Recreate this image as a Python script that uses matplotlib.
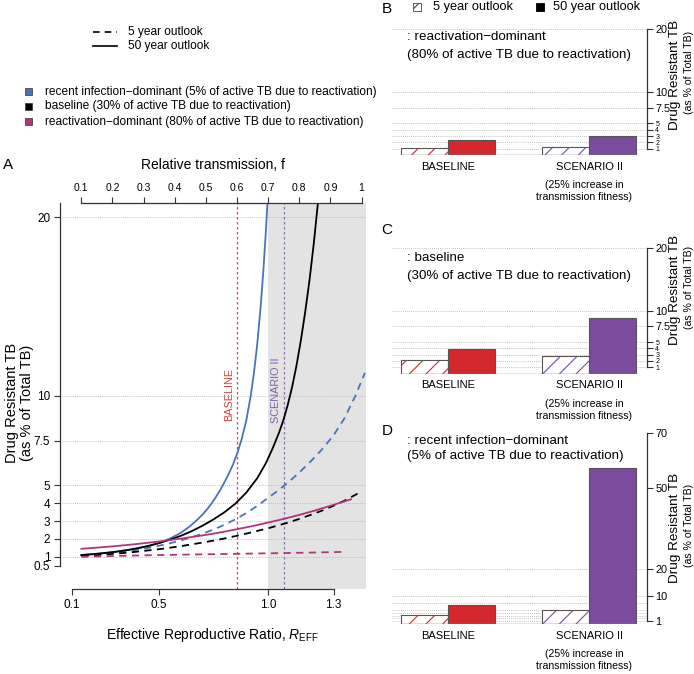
import matplotlib
matplotlib.use("Agg")
import matplotlib.pyplot as plt
from matplotlib.patches import Rectangle
from matplotlib.lines import Line2D

plt.rcParams['font.family'] = ['Liberation Sans', 'DejaVu Sans']
plt.rcParams['mathtext.fontset'] = 'custom'
plt.rcParams['mathtext.rm'] = 'Liberation Sans'
plt.rcParams['mathtext.it'] = 'Liberation Sans:italic'
plt.rcParams['hatch.linewidth'] = 0.8

# ---- panel A data (R_EFF, % drug resistant TB) ----
r_recent_50 = [0.143, 0.2, 0.25, 0.3, 0.35, 0.4, 0.45, 0.5, 0.55, 0.6, 0.64, 0.67, 0.7, 0.72, 0.74, 0.76,
               0.78, 0.8, 0.82, 0.84, 0.86, 0.88, 0.9, 0.92, 0.935, 0.95, 0.965, 0.978, 0.99, 1.0]
v_recent_50 = [1.1, 1.16, 1.22, 1.29, 1.37, 1.47, 1.6, 1.78, 2.02, 2.35, 2.7, 3.02, 3.38, 3.66, 3.98, 4.34,
               4.74, 5.18, 5.66, 6.2, 6.85, 7.65, 8.65, 10.0, 11.3, 12.9, 14.9, 17.0, 19.3, 21.5]
r_recent_5 = [0.143, 0.2, 0.25, 0.3, 0.35, 0.4, 0.45, 0.5, 0.55, 0.6, 0.65, 0.7, 0.75, 0.8, 0.85, 0.9,
              0.95, 1.0, 1.05, 1.1, 1.15, 1.2, 1.25, 1.3, 1.35, 1.4, 1.444]
v_recent_5 = [1.08, 1.13, 1.18, 1.24, 1.31, 1.4, 1.5, 1.62, 1.76, 1.92, 2.1, 2.3, 2.53, 2.8, 3.1, 3.45,
              3.85, 4.3, 4.75, 5.25, 5.8, 6.4, 7.05, 7.8, 8.75, 10.0, 11.3]

r_base_50 = [0.143, 0.2, 0.25, 0.3, 0.35, 0.4, 0.45, 0.5, 0.55, 0.6, 0.65, 0.7, 0.75, 0.8, 0.85, 0.9,
             0.95, 0.99, 1.02, 1.05, 1.07, 1.09, 1.11, 1.13, 1.15, 1.17, 1.19, 1.21, 1.23]
v_base_50 = [1.1, 1.15, 1.21, 1.28, 1.37, 1.48, 1.61, 1.77, 1.96, 2.18, 2.44, 2.75, 3.1, 3.5, 3.98, 4.6,
             5.4, 6.25, 7.05, 7.95, 8.65, 9.5, 10.5, 11.7, 13.1, 14.7, 16.5, 18.6, 21.0]
r_base_5 = [0.143, 0.2, 0.25, 0.3, 0.35, 0.4, 0.45, 0.5, 0.55, 0.6, 0.65, 0.7, 0.75, 0.8, 0.85, 0.9,
            0.95, 1.0, 1.05, 1.1, 1.15, 1.2, 1.25, 1.3, 1.35, 1.42]
v_base_5 = [1.05, 1.09, 1.13, 1.18, 1.23, 1.29, 1.36, 1.43, 1.51, 1.6, 1.7, 1.8, 1.91, 2.03, 2.16, 2.3,
            2.45, 2.6, 2.77, 2.95, 3.15, 3.37, 3.6, 3.86, 4.14, 4.6]

r_react_50 = [0.143, 0.2, 0.25, 0.3, 0.35, 0.4, 0.45, 0.5, 0.55, 0.6, 0.65, 0.7, 0.75, 0.8, 0.85, 0.9,
              0.95, 1.0, 1.05, 1.1, 1.15, 1.2, 1.25, 1.3, 1.38]
v_react_50 = [1.45, 1.5, 1.55, 1.6, 1.66, 1.72, 1.79, 1.86, 1.94, 2.02, 2.11, 2.2, 2.3, 2.41, 2.53, 2.65,
              2.78, 2.92, 3.06, 3.21, 3.37, 3.54, 3.72, 3.91, 4.22]
r_react_5 = [0.143, 0.3, 0.5, 0.7, 0.857, 1.07, 1.2, 1.36]
v_react_5 = [1.0, 1.05, 1.1, 1.14, 1.17, 1.21, 1.24, 1.28]

f_per_R = 0.7          # relative transmission f = 0.7 * R_EFF
f_baseline = 0.6
f_scenario = 0.75

a_yticks = [0.5, 1, 2, 3, 4, 5, 7.5, 10, 20]
a_yticklabels = ['0.5', '1', '2', '3', '4', '5', '7.5', '10', '20']
a_grid = [1, 2, 3, 4, 5, 7.5, 10, 20]
a_xticks = [0.1, 0.5, 1.0, 1.3]
a_xticklabels = ['0.1', '0.5', '1.0', '1.3']
f_ticks = [0.1, 0.2, 0.3, 0.4, 0.5, 0.6, 0.7, 0.8, 0.9, 1.0]
f_ticklabels = ['0.1', '0.2', '0.3', '0.4', '0.5', '0.6', '0.7', '0.8', '0.9', '1']

# ---- panels B-D data (baseline, scenario II) ----
groups = ['BASELINE', 'SCENARIO II']
b_5yr = [1.16, 1.27]
b_50yr = [2.4, 2.97]
c_5yr = [2.1, 2.8]
c_50yr = [3.95, 8.9]
d_5yr = [3.2, 5.0]
d_50yr = [6.8, 57.1]

bc_ticks = [1, 2, 3, 4, 5, 7.5, 10, 20]
bc_ticklabels = ['1', '2', '3', '4', '5', '7.5', '10', '20']
d_ticks = [1, 10, 20, 50, 70]
d_ticklabels = ['1', '10', '20', '50', '70']
bar_grid = [1, 2, 3, 4, 5, 7.5, 10, 20]

BLUE = '#4b73b6'
MAGENTA = '#b2357a'
RED = '#d3282d'
PURPLE = '#7b4c9e'
DASH = (0, (4, 3))

W, H = 694, 674


def fx(x):
    return x / W


def fy(y):
    return 1 - y / H


fig = plt.figure(figsize=(6.94, 6.74), dpi=100)

# ================= panel A =================
axA = fig.add_axes([fx(60), fy(589), 306 / W, 386 / H])
axA.set_xlim(0.045, 1.449)
axA.set_ylim(-0.8, 20.8)
axA.axvspan(1.0, 1.449, color='#e3e3e3', lw=0, zorder=0)
for g in a_grid:
    axA.axhline(g, color='#b0b0b0', lw=0.6, ls=(0, (1, 1.5)), zorder=1)

axA.axvline(f_baseline / f_per_R, color='#e0453a', lw=0.9, ls=(0, (2, 2)), zorder=2)
axA.axvline(f_scenario / f_per_R, color='#8a6bb0', lw=0.9, ls=(0, (2, 2)), zorder=2)
axA.annotate('BASELINE', xy=(f_baseline / f_per_R, 10.1), xytext=(-2, 0), textcoords='offset points',
             rotation=90, ha='right', va='center', color='#d9403a', fontsize=7.8)
axA.annotate('SCENARIO II', xy=(f_scenario / f_per_R, 10.3), xytext=(-2, 0), textcoords='offset points',
             rotation=90, ha='right', va='center', color='#7e5fae', fontsize=7.8)

axA.plot(r_recent_5, v_recent_5, color=BLUE, lw=1.3, ls=DASH, zorder=3)
axA.plot(r_base_5, v_base_5, color='black', lw=1.3, ls=DASH, zorder=3)
axA.plot(r_react_5, v_react_5, color=MAGENTA, lw=1.3, ls=DASH, zorder=3)
axA.plot(r_recent_50, v_recent_50, color=BLUE, lw=1.3, zorder=3)
axA.plot(r_base_50, v_base_50, color='black', lw=1.3, zorder=3)
axA.plot(r_react_50, v_react_50, color=MAGENTA, lw=1.3, zorder=3)

axA.spines['right'].set_visible(False)
axA.spines['top'].set_visible(False)
axA.spines['left'].set_bounds(0.5, 20.8)
axA.spines['bottom'].set_bounds(0.1, 1.3)
for s in ('left', 'bottom'):
    axA.spines[s].set_color('#333333')
    axA.spines[s].set_linewidth(0.9)
axA.set_xticks(a_xticks)
axA.set_xticklabels(a_xticklabels)
axA.set_yticks(a_yticks)
axA.set_yticklabels(a_yticklabels)
axA.tick_params(labelsize=8.5, length=4, width=0.8, color='#333333', pad=3)

axT = axA.twiny()
axT.set_xlim(0.045 * f_per_R, 1.449 * f_per_R)
for s in ('left', 'bottom', 'right'):
    axT.spines[s].set_visible(False)
axT.spines['top'].set_bounds(0.1, 1.0)
axT.spines['top'].set_color('#333333')
axT.spines['top'].set_linewidth(0.9)
axT.set_xticks(f_ticks)
axT.set_xticklabels(f_ticklabels)
axT.tick_params(labelsize=7.5, length=4, width=0.8, color='#333333', pad=3)

fig.text(fx(213), fy(165), 'Relative transmission, f', ha='center', va='center', fontsize=10)
fig.text(fx(212), fy(635), 'Effective Reproductive Ratio, $\\it{R}_{\\rm{EFF}}$',
         ha='center', va='center', fontsize=10)
fig.text(fx(12), fy(403), 'Drug Resistant TB', rotation=90, ha='center', va='center', fontsize=10.5)
fig.text(fx(27), fy(403), '(as % of Total TB)', rotation=90, ha='center', va='center', fontsize=10.5)
fig.text(fx(8), fy(165), 'A', ha='center', va='center', fontsize=11)

# legends top-left
fig.add_artist(Line2D([fx(93), fx(117)], [fy(31.7), fy(31.7)], transform=fig.transFigure,
                      color='black', lw=1.2, ls=DASH))
fig.add_artist(Line2D([fx(93), fx(117)], [fy(45.7), fy(45.7)], transform=fig.transFigure,
                      color='black', lw=1.2))
fig.text(fx(128), fy(31.7), '5 year outlook', va='center', fontsize=8.6)
fig.text(fx(128), fy(45.7), '50 year outlook', va='center', fontsize=8.6)

legend_items = [(BLUE, 'recent infection\u2212dominant (5% of active TB due to reactivation)'),
                ('black', 'baseline (30% of active TB due to reactivation)'),
                (MAGENTA, 'reactivation\u2212dominant (80% of active TB due to reactivation)')]
for i, (c, lab) in enumerate(legend_items):
    yc = 91.5 + 15 * i
    fig.add_artist(Rectangle((fx(25), fy(yc + 3.5)), 7 / W, 7 / H, transform=fig.transFigure,
                             facecolor=c, edgecolor='#333333', lw=0.5))
    fig.text(fx(45), fy(yc), lab, va='center', fontsize=8.6)


# ================= panels B-D =================
def bar_panel(rect, five, fifty, ymax, ticks, ticklabels, title1, title2, title_y, letter, letter_y, ylab_y):
    ax = fig.add_axes(rect)
    ax.set_xlim(-0.19, 5.23)
    ax.set_ylim(0, ymax)
    for g in bar_grid:
        ax.axhline(g, color='#b0b0b0', lw=0.6, ls=(0, (1, 1.5)), zorder=0)
    cols = [RED, PURPLE]
    x5 = [0.5, 3.5]
    x50 = [1.5, 4.5]
    ax.bar(x5, five, width=1, facecolor='white', edgecolor=cols, hatch='//', lw=0, zorder=2)
    ax.bar(x5, five, width=1, fill=False, edgecolor='#555555', lw=0.8, zorder=3)
    ax.bar(x50, fifty, width=1, color=cols, edgecolor='#555555', lw=0.8, zorder=3)
    ax.hlines(0, x5[0] - 0.5, x50[-1] + 0.5, color='#888888', lw=1.0, zorder=4)

    ax.annotate(groups[0], xy=(1.0, 0), xytext=(0, -8.6), textcoords='offset points',
                ha='center', va='center', fontsize=8)
    ax.annotate(groups[1], xy=(4.0, 0), xytext=(0, -8.6), textcoords='offset points',
                ha='center', va='center', fontsize=8)
    ax.annotate('(25% increase in\ntransmission fitness)', xy=(4.0, 0), xytext=(-3.5, -26),
                textcoords='offset points', ha='center', va='center', fontsize=7.6, linespacing=1.25)

    for s in ('left', 'top', 'bottom'):
        ax.spines[s].set_visible(False)
    ax.spines['right'].set_bounds(1, ticks[-1])
    ax.spines['right'].set_color('#333333')
    ax.spines['right'].set_linewidth(0.9)
    ax.yaxis.tick_right()
    ax.set_yticks(ticks)
    ax.set_yticklabels(ticklabels)
    ax.set_xticks([])
    ax.tick_params(axis='y', labelsize=7.8, length=4, width=0.8, color='#333333', pad=2)
    # the crowded 1-5 labels are squeezed together, drawn small
    for t, v in zip(ax.get_yticklabels(), ticks):
        if v <= 5 and len(ticks) > 5:
            t.set_fontsize(5)

    fig.text(fx(407), fy(title_y[0]), title1, va='center', fontsize=9.6)
    fig.text(fx(407), fy(title_y[1]), title2, va='center', fontsize=9.6)
    fig.text(fx(387), fy(letter_y), letter, ha='center', va='center', fontsize=11)
    fig.text(fx(675), fy(ylab_y), 'Drug Resistant TB', rotation=90, ha='center', va='center', fontsize=9.7)
    fig.text(fx(689), fy(ylab_y - 3), '(as % of Total TB)', rotation=90, ha='center', va='center', fontsize=7.6)
    return ax


bar_panel([fx(392), fy(155), 255 / W, 127.9 / H], b_5yr, b_50yr, 20.3, bc_ticks, bc_ticklabels,
          ': reactivation\u2212dominant', '(80% of active TB due to reactivation)', (37, 55), 'B', 9, 75)
bar_panel([fx(392), fy(373.5), 255 / W, 127.4 / H], c_5yr, c_50yr, 20.3, bc_ticks, bc_ticklabels,
          ': baseline', '(30% of active TB due to reactivation)', (258, 276), 'C', 230, 290)
bar_panel([fx(392), fy(623.7), 255 / W, 191.8 / H], d_5yr, d_50yr, 70.5, d_ticks, d_ticklabels,
          ': recent infection\u2212dominant', '(5% of active TB due to reactivation)', (441, 456), 'D', 431, 528)

# legend for bar panels
fig.add_artist(Rectangle((fx(413), fy(11)), 8 / W, 8 / H, transform=fig.transFigure,
                         facecolor='white', edgecolor='#444444', hatch='///', lw=0.6))
fig.text(fx(433), fy(7), '5 year outlook', va='center', fontsize=9.2)
fig.add_artist(Rectangle((fx(536), fy(11)), 8 / W, 8 / H, transform=fig.transFigure,
                         facecolor='black', edgecolor='black', lw=0.6))
fig.text(fx(553), fy(7), '50 year outlook', va='center', fontsize=9.2)

fig.savefig('out.png', dpi=100)
